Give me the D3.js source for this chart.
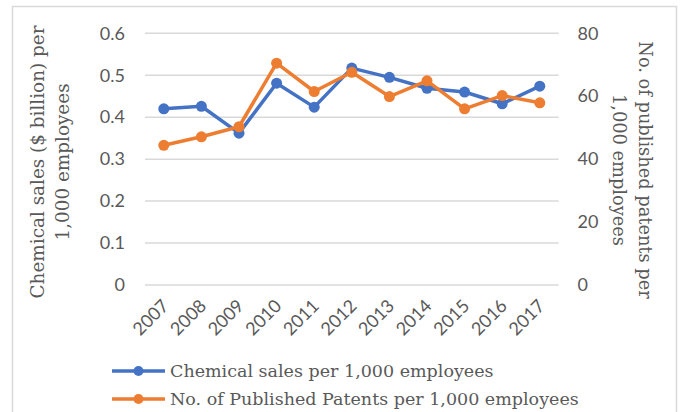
<!DOCTYPE html>
<html>
<head>
<meta charset="utf-8">
<script src="https://cdn.jsdelivr.net/npm/d3@7"></script>
<style>
  html, body { margin: 0; padding: 0; background: #fff; }
  svg { display: block; }
</style>
</head>
<body>
<svg id="chart" width="680" height="412"></svg>
<script>
// Years on the category axis
const years = ["2007","2008","2009","2010","2011","2012","2013","2014","2015","2016","2017"];
// Chemical sales ($ billion) per 1,000 employees — left axis
const salesPerK = [0.420, 0.426, 0.362, 0.481, 0.424, 0.517, 0.495, 0.469, 0.460, 0.432, 0.474];
// Published patents per 1,000 employees — right axis
const patentsPerK = [44.4, 47.1, 50.3, 70.5, 61.5, 67.6, 59.9, 64.9, 56.0, 60.2, 57.9];
// Tick labels for both value axes
const leftTicks = [0, 0.1, 0.2, 0.3, 0.4, 0.5, 0.6];
const rightTicks = [0, 20, 40, 60, 80];
const seriesNames = ["Chemical sales per 1,000 employees", "No. of Published Patents per 1,000 employees"];

const BLUE = "#4472C4", ORANGE = "#ED7D31", GREY = "#595959", GRID = "#d9d9d9";
const SANS = "Lato, 'Open Sans', sans-serif";
const SERIF = "'DejaVu Serif', serif";

const svg = d3.select("#chart");

// outer chart frame
svg.append("rect")
  .attr("x", 12.5).attr("y", 6.5).attr("width", 664).attr("height", 420)
  .attr("fill", "#fff").attr("stroke", "#d9d9d9").attr("stroke-width", 1.5);

const plot = { left: 145, right: 558.6, top: 33.3, bottom: 285 };

const x = d3.scaleBand().domain(years).range([plot.left, plot.right]);
const yL = d3.scaleLinear().domain([0, 0.6]).range([plot.bottom, plot.top]);
const yR = d3.scaleLinear().domain([0, 80]).range([plot.bottom, plot.top]);

// horizontal gridlines
svg.append("g")
  .selectAll("line").data(leftTicks).join("line")
  .attr("x1", plot.left).attr("x2", plot.right)
  .attr("y1", d => yL(d)).attr("y2", d => yL(d))
  .attr("stroke", GRID).attr("stroke-width", 1.5);

// left value axis
const axL = svg.append("g").attr("transform", `translate(${plot.left - 20},0)`)
  .call(d3.axisLeft(yL).tickValues(leftTicks).tickSize(0).tickPadding(0).tickFormat(d => d === 0 ? "0" : d3.format(".1f")(d)));
axL.select(".domain").remove();
axL.selectAll("text").attr("fill", GREY).style("font-family", SANS).style("font-size", "18px");

// right value axis
const axR = svg.append("g").attr("transform", `translate(${plot.right + 19},0)`)
  .call(d3.axisRight(yR).tickValues(rightTicks).tickSize(0).tickPadding(0));
axR.select(".domain").remove();
axR.selectAll("text").attr("fill", GREY).style("font-family", SANS).style("font-size", "18px");

// category axis, labels turned 45°
const axX = svg.append("g").attr("transform", `translate(0,${plot.bottom})`)
  .call(d3.axisBottom(x).tickSize(0).tickPadding(0));
axX.select(".domain").remove();
axX.selectAll("text")
  .attr("fill", GREY).style("font-family", SANS).style("font-size", "18px")
  .attr("text-anchor", "end").attr("dy", 0).attr("y", 0)
  .attr("transform", "translate(6,22) rotate(-45)");

// axis titles
const titleL = svg.append("text")
  .attr("transform", `translate(44,162) rotate(-90)`)
  .attr("text-anchor", "middle").attr("fill", GREY)
  .style("font-family", SERIF).style("font-size", "18.4px");
titleL.append("tspan").attr("x", 0).attr("y", 0).text("Chemical sales ($ billion) per");
titleL.append("tspan").attr("x", 0).attr("y", 25).text("1,000 employees");

const titleR = svg.append("text")
  .attr("transform", `translate(639,170) rotate(90)`)
  .attr("text-anchor", "middle").attr("fill", GREY)
  .style("font-family", SERIF).style("font-size", "17.8px");
titleR.append("tspan").attr("x", 0).attr("y", 0).text("No. of published patents per");
titleR.append("tspan").attr("x", 0).attr("y", 26).text("1,000 employees");

// series lines and markers
const cx = d => x(d) + x.bandwidth() / 2;
const series = [
  { values: salesPerK, y: yL, color: BLUE },
  { values: patentsPerK, y: yR, color: ORANGE }
];
series.forEach(s => {
  const pts = years.map((yr, i) => [cx(yr), s.y(s.values[i])]);
  svg.append("path")
    .attr("d", d3.line()(pts))
    .attr("fill", "none").attr("stroke", s.color)
    .attr("stroke-width", 3.5).attr("stroke-linejoin", "round").attr("stroke-linecap", "round");
  svg.append("g").selectAll("circle").data(pts).join("circle")
    .attr("cx", d => d[0]).attr("cy", d => d[1]).attr("r", 5.5)
    .attr("fill", s.color);
});

// legend
const legend = svg.append("g");
seriesNames.forEach((name, i) => {
  const ly = 371 + i * 28;
  const col = i === 0 ? BLUE : ORANGE;
  legend.append("line").attr("x1", 112).attr("x2", 165).attr("y1", ly).attr("y2", ly)
    .attr("stroke", col).attr("stroke-width", 3.5);
  legend.append("circle").attr("cx", 138.5).attr("cy", ly).attr("r", 5).attr("fill", col);
  legend.append("text").attr("x", 170).attr("y", ly).attr("dy", "0.35em")
    .attr("fill", GREY).style("font-family", SERIF).style("font-size", "17.5px").text(name);
});
</script>
</body>
</html>
